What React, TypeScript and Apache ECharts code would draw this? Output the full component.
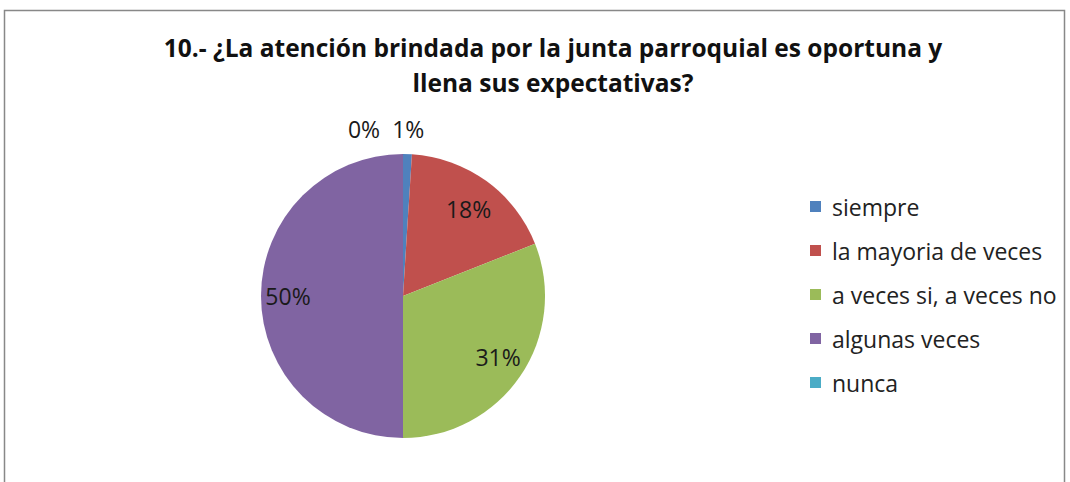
import React, { useEffect, useRef } from "react";
import * as echarts from "echarts";

const categories = ["siempre", "la mayoria de veces", "a veces si, a veces no", "algunas veces", "nunca"];
const values = [1, 18, 31, 50, 0];
const colors = ["#4F81BD", "#C0504D", "#9BBB59", "#8064A2", "#4BACC6"];
const titleText = "10.- ¿La atención brindada por la junta parroquial es oportuna y\nllena sus expectativas?";

const FONT = "'Open Sans', Lato, sans-serif";

export default function App() {
  const ref = useRef<HTMLDivElement>(null);
  useEffect(() => {
    if (!ref.current) return;
    const chart = echarts.init(ref.current, null, { renderer: "svg" });
    const baseData = categories.map((name, i) => ({
      name,
      value: values[i],
      itemStyle: { color: colors[i] },
    }));
    const center = [403, 296];
    const labelStyle = { color: "#1a1a1a", fontSize: 23, fontFamily: FONT };
    chart.setOption({
      animation: false,
      backgroundColor: "#ffffff",
      title: {
        text: titleText,
        left: 548,
        top: 25,
        textAlign: "center",
        textStyle: { fontFamily: FONT, fontWeight: "bold", fontSize: 24.5, color: "#111", lineHeight: 35 },
      },
      legend: {
        orient: "vertical",
        left: 805,
        top: 190,
        itemWidth: 11,
        itemHeight: 11,
        itemGap: 21,
        icon: "rect",
        data: categories.map((name, i) => ({ name, itemStyle: { color: colors[i] } })),
        textStyle: { fontFamily: FONT, fontSize: 23, color: "#222", padding: [0, 0, 0, 6] },
      },
      graphic: [
        {
          type: "rect",
          shape: { x: 4.5, y: 10.5, width: 1060, height: 500 },
          style: { fill: "none", stroke: "#888", lineWidth: 1.5 },
          silent: true,
        },
      ],
      series: [
        {
          type: "pie",
          center,
          radius: [0, 142],
          label: { show: false },
          labelLine: { show: false },
          data: baseData,
          silent: true,
        },
        {
          type: "pie",
          center,
          radius: [0, 224],
          silent: true,
          itemStyle: { color: "rgba(0,0,0,0)" },
          label: { show: true, position: "inside", formatter: "{d}%", ...labelStyle },
          labelLine: { show: false },
          labelLayout: (p: any) =>
            p.dataIndex === 1 ? { dy: 6, dx: -2 } : p.dataIndex === 2 ? { dy: -4 } : {},
          data: categories.map((name, i) => ({
            name,
            value: values[i],
            itemStyle: { color: "rgba(0,0,0,0)" },
            label: { show: i >= 1 && i <= 3 },
          })),
        },
        {
          type: "pie",
          center,
          radius: [0, 328],
          silent: true,
          itemStyle: { color: "rgba(0,0,0,0)" },
          label: { show: true, position: "inside", formatter: "{d}%", ...labelStyle },
          labelLine: { show: false },
          labelLayout: (p: any) => (p.dataIndex === 4 ? { dx: -39 } : {}),
          data: categories.map((name, i) => ({
            name,
            value: values[i],
            itemStyle: { color: "rgba(0,0,0,0)" },
            label: { show: i === 0 || i === 4 },
          })),
        },
      ],
    });
    return () => chart.dispose();
  }, []);
  return (
    <div
      ref={ref}
      style={{ position: "fixed", left: 0, top: 0, width: 1070, height: 482 }}
    />
  );
}
